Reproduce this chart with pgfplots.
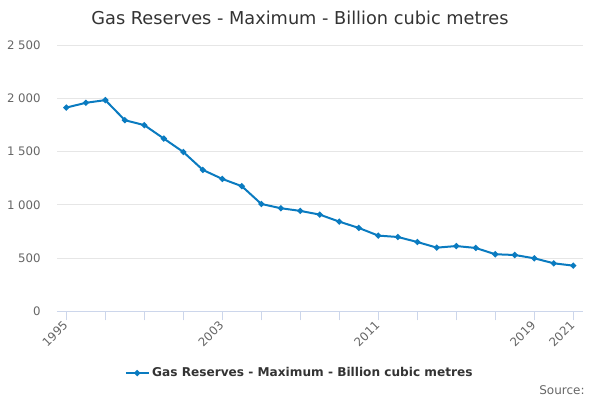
\documentclass[border=0pt]{standalone}
\usepackage{pgfplots}
\pgfplotsset{compat=1.18}
\usepackage{fontspec}
\setmainfont{DejaVu Sans}
\definecolor{linec}{HTML}{0A7BC0}
\definecolor{gridc}{HTML}{E6E6E6}
\definecolor{axc}{HTML}{CCD6EB}
\definecolor{tickc}{HTML}{666666}
\definecolor{titc}{HTML}{333333}
\begin{document}
\begin{tikzpicture}
\path[use as bounding box] (0pt,0pt) rectangle (450pt,300pt);
\begin{axis}[
  at={(42.75pt,66.5pt)}, anchor=south west,
  scale only axis, width=394.5pt, height=199.7pt,
  xmin=1994.52, xmax=2021.5, ymin=0, ymax=2500,
  axis x line*=bottom, axis y line*=left,
  y axis line style={draw=none},
  x axis line style={draw=axc, line width=0.75pt},
  ytick={0,500,...,2500},
  ytick style={draw=none},
  xtick={1995,2003,2011,2019,2021},
  minor xtick={1997,1999,2001,2005,2007,2009,2013,2015,2017},
  xtick style={draw=axc, line width=0.75pt},
  tick align=outside, major tick length=6.75pt, minor tick length=6.75pt,
  ymajorgrids, grid style={draw=gridc, line width=0.75pt},
  /pgf/number format/assume math mode=true,
  /pgf/number format/1000 sep={\ },
  xticklabel={\pgfmathprintnumber[1000 sep={}]{\tick}},
  ticklabel style={font=\fontsize{8.8pt}{10pt}\selectfont, text=tickc},
  yticklabel style={xshift=-2pt},
  xticklabel style={rotate=45, anchor=east, xshift=1.5pt, yshift=-1pt},
  legend style={at={(0.462,-0.232)}, anchor=center, draw=none, fill=none,
    font=\fontsize{9.1pt}{11pt}\selectfont\bfseries, text=titc},
  legend cell align=left,
  clip=false,
]
\addplot[linec, line width=1.5pt, mark=*, mark size=1.4pt, mark options={fill=linec, draw=linec}]
coordinates {
(1995,1913) (1996,1958) (1997,1983) (1998,1795) (1999,1748) (2000,1622)
(2001,1496) (2002,1328) (2003,1243) (2004,1175) (2005,1008) (2006,968)
(2007,943) (2008,908) (2009,842) (2010,783) (2011,711) (2012,698)
(2013,651) (2014,598) (2015,613) (2016,595) (2017,536) (2018,529)
(2019,498) (2020,451) (2021,429)
};
\addlegendentry{Gas Reserves - Maximum - Billion cubic metres}
\end{axis}
\node[font=\fontsize{13.3pt}{15pt}\selectfont, text=titc] at (225pt,286.5pt) {Gas Reserves - Maximum - Billion cubic metres};
\node[font=\fontsize{9pt}{11pt}\selectfont, text=tickc, anchor=east] at (442pt,7.5pt) {Source:};
\end{tikzpicture}
\end{document}
